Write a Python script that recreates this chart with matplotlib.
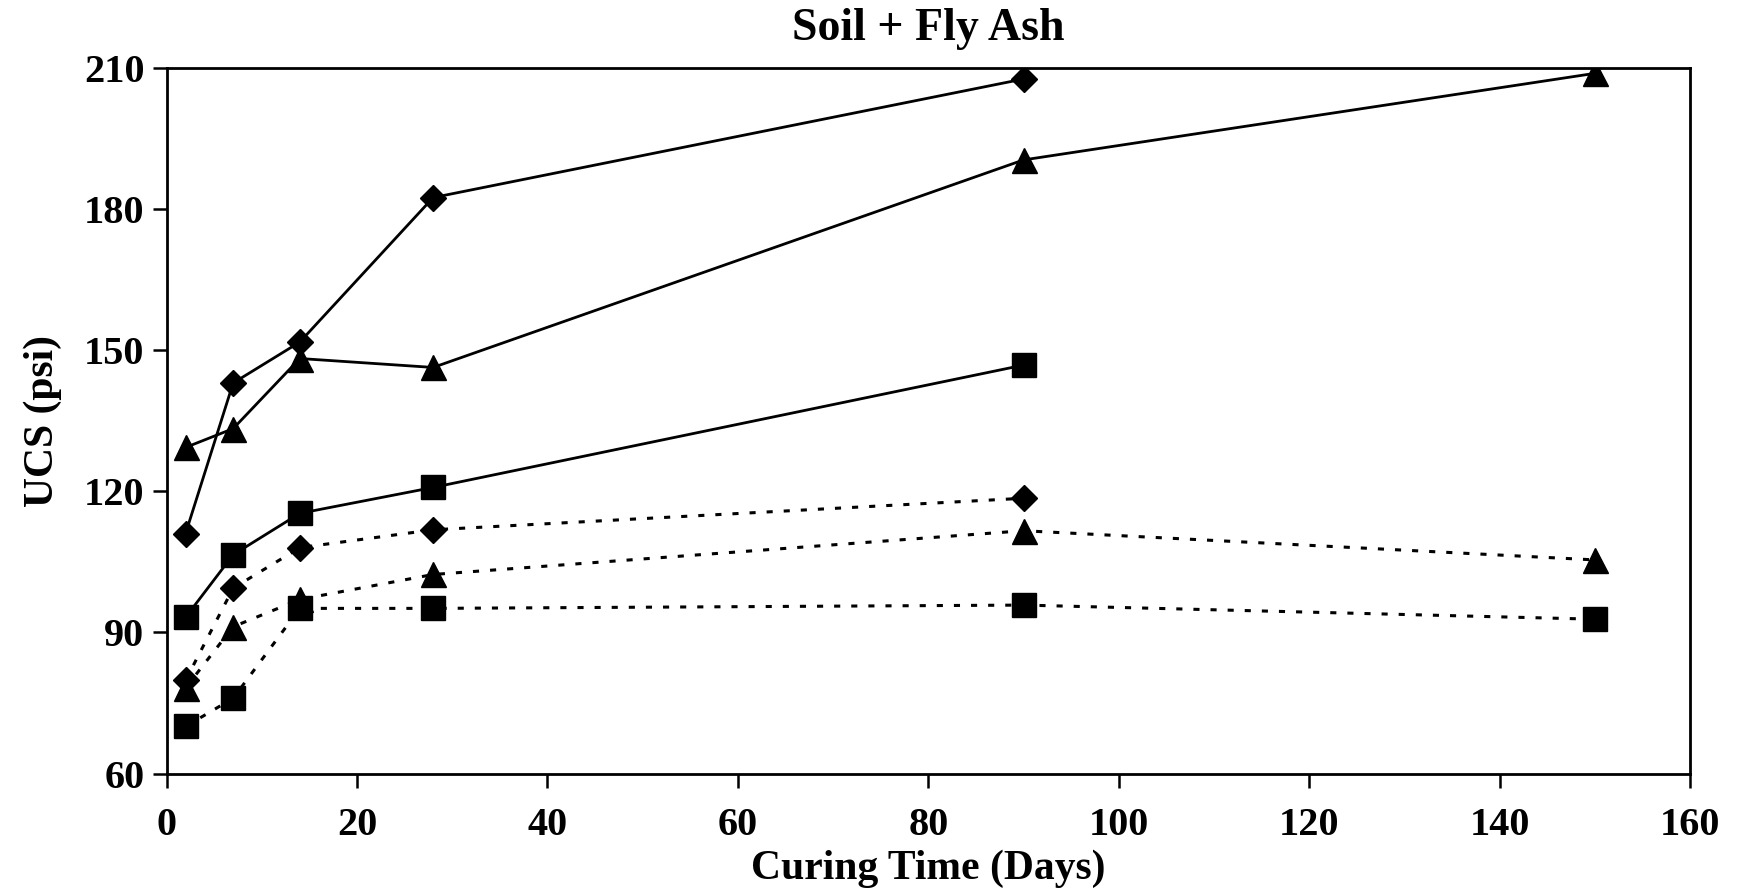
import matplotlib
matplotlib.use("Agg")
import matplotlib.pyplot as plt

plt.rcParams['font.family'] = ['Liberation Serif', 'DejaVu Serif']
plt.rcParams['font.weight'] = 'bold'

# Curing times (days) and UCS values (psi)
days_short = [2, 7, 14, 28, 90]
days_long = [2, 7, 14, 28, 90, 150]

solid_diamond = [111, 143, 151.7, 182.4, 207.6]
solid_triangle = [129.3, 133.3, 148.2, 146.3, 190.4, 208.8]
solid_square = [93.2, 106.5, 115.3, 120.8, 146.8]

dotted_diamond = [79.8, 99.4, 108, 111.8, 118.5]
dotted_triangle = [78.2, 91.2, 97.0, 102.3, 111.6, 105.4]
dotted_square = [70, 76, 95.1, 95.1, 95.8, 92.8]

xticks = [0, 20, 40, 60, 80, 100, 120, 140, 160]
yticks = [60, 90, 120, 150, 180, 210]

fig = plt.figure(figsize=(17.4, 8.92), dpi=100)
ax = fig.add_axes([0.0957, 0.1328, 0.8756, 0.7913])

lw = 2.0
dot_lw = 2.2
dot_style = (0, (2.0, 3.6))

ax.plot(days_short, solid_diamond, color='black', lw=lw, marker='D', ms=13, zorder=3)
ax.plot(days_long, solid_triangle, color='black', lw=lw, marker='^', ms=18, zorder=3)
ax.plot(days_short, solid_square, color='black', lw=lw, marker='s', ms=17, zorder=3)

ax.plot(days_short, dotted_diamond, color='black', lw=dot_lw, ls=dot_style, marker='D', ms=13, zorder=3)
ax.plot(days_long, dotted_triangle, color='black', lw=dot_lw, ls=dot_style, marker='^', ms=18, zorder=3)
ax.plot(days_long, dotted_square, color='black', lw=dot_lw, ls=dot_style, marker='s', ms=17, zorder=3)

ax.set_xlim(0, 160)
ax.set_ylim(60, 210)
ax.set_xticks(xticks)
ax.set_yticks(yticks)
ax.tick_params(axis='both', direction='out', length=10, width=1.8, labelsize=29)
ax.tick_params(axis='x', pad=14)
ax.tick_params(axis='y', pad=6)
for lab in ax.get_xticklabels() + ax.get_yticklabels():
    lab.set_fontweight('bold')
for s in ax.spines.values():
    s.set_linewidth(2.0)
    s.set_color('black')

ax.set_xlabel('Curing Time (Days)', fontsize=30, fontweight='bold', labelpad=4)
ax.set_ylabel('UCS (psi)', fontsize=30, fontweight='bold', labelpad=16)
ax.set_title('Soil + Fly Ash', fontsize=33, fontweight='bold', pad=20)

fig.savefig('out.png', dpi=100)
